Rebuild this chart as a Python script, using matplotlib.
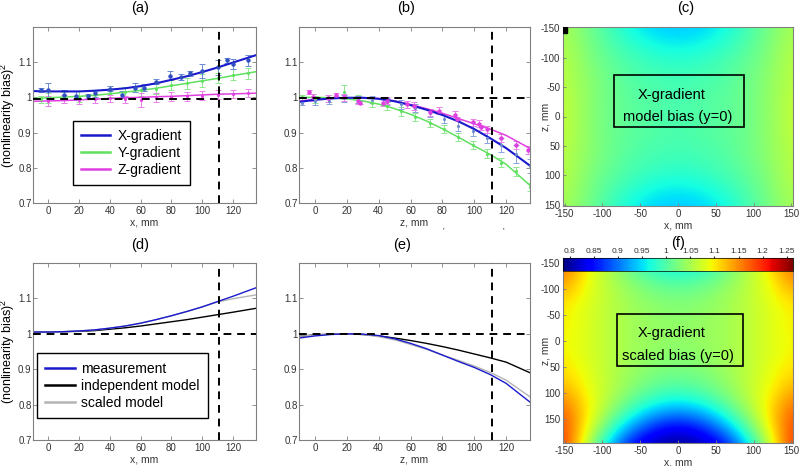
import numpy as np
import matplotlib.pyplot as plt
from matplotlib.patches import Rectangle
from matplotlib.lines import Line2D

plt.rcParams['font.family'] = ['Liberation Sans', 'DejaVu Sans']
plt.rcParams['mathtext.default'] = 'regular'
plt.rcParams['axes.unicode_minus'] = False

# ---------------- data ----------------
# fitted curves, x (or z) in mm
x_fit = [-10, 0, 10, 20, 30, 40, 50, 60, 70, 80, 90, 100, 110, 120, 135]

# (a) x-direction, measured points with error bars
a_blue_x = [-5, 0, 10, 18, 26, 30, 40, 48, 56, 62, 70, 79, 86, 92, 100, 110, 116, 120, 130]
a_blue_y = [1.02, 1.02, 1.008, 1.005, 1.005, 1.012, 1.025, 1.008, 1.028, 1.027, 1.045,
            1.062, 1.058, 1.068, 1.075, 1.085, 1.105, 1.095, 1.105]
a_blue_e = [0.006, 0.02, 0.012, 0.012, 0.006, 0.01, 0.008, 0.01, 0.012, 0.01, 0.008,
            0.012, 0.008, 0.008, 0.02, 0.02, 0.006, 0.015, 0.015]
a_green_x = [-5, 0, 10, 20, 30, 40, 50, 60, 70, 80, 90, 100, 110, 120, 130]
a_green_y = [0.995, 0.998, 1.0, 1.002, 1.007, 1.012, 1.015, 1.02, 1.025, 1.035, 1.04,
             1.048, 1.055, 1.065, 1.068]
a_green_e = [0.01, 0.015, 0.015, 0.015, 0.012, 0.012, 0.015, 0.015, 0.015, 0.015, 0.015,
             0.018, 0.015, 0.015, 0.015]
a_mag_x = [0, 10, 20, 30, 40, 50, 60, 70, 80, 90, 100, 110, 120, 130]
a_mag_y = [0.99, 0.995, 0.993, 0.995, 0.998, 0.995, 0.992, 1.0, 1.002, 1.003, 1.005,
           1.008, 1.01, 1.012]
a_mag_e = [0.015, 0.012, 0.012, 0.012, 0.01, 0.01, 0.02, 0.012, 0.012, 0.012, 0.012,
           0.012, 0.012, 0.012]
a_blue_fit = [1.018, 1.017, 1.017, 1.017, 1.019, 1.022, 1.026, 1.032, 1.04, 1.05, 1.06,
              1.072, 1.085, 1.099, 1.12]
a_green_fit = [0.997, 0.999, 1.001, 1.003, 1.006, 1.01, 1.015, 1.02, 1.026, 1.033, 1.04,
               1.047, 1.054, 1.062, 1.073]
a_mag_fit = [0.989, 0.99, 0.991, 0.993, 0.995, 0.997, 0.999, 1.0, 1.002, 1.003, 1.005,
             1.007, 1.009, 1.01, 1.012]

# (b) z-direction
b_pts_x = [-8, 0, 9, 18, 27, 36, 45, 54, 63, 72, 81, 90, 99, 108, 117, 126, 135]
b_blue_y = [0.985, 0.99, 0.99, 0.997, 0.995, 0.993, 0.988, 0.98, 0.97, 0.955, 0.94,
            0.92, 0.905, 0.885, 0.865, 0.84, 0.805]
b_blue_e = [0.008, 0.012, 0.008, 0.01, 0.01, 0.01, 0.01, 0.012, 0.012, 0.012, 0.012,
            0.015, 0.015, 0.015, 0.02, 0.025, 0.02]
b_green_y = [1.0, 0.995, 0.997, 1.015, 0.995, 0.985, 0.975, 0.96, 0.945, 0.928, 0.91,
             0.887, 0.865, 0.84, 0.815, 0.79, 0.745]
b_green_e = [0.008, 0.01, 0.01, 0.02, 0.012, 0.012, 0.012, 0.012, 0.012, 0.012, 0.012,
             0.012, 0.012, 0.012, 0.012, 0.012, 0.012]
b_mag_x = [-4, -1, 8, 13, 18, 27, 28, 43, 45, 58, 62, 72, 78, 88, 89, 99, 103, 104,
           108, 117, 126, 134]
b_mag_y = [1.015, 1.0, 0.998, 1.008, 1.0, 0.99, 0.985, 0.985, 0.99, 0.98, 0.975, 0.958,
           0.962, 0.95, 0.94, 0.93, 0.925, 0.915, 0.91, 0.885, 0.865, 0.85]
b_mag_e = [0.005, 0.01, 0.01, 0.005, 0.01, 0.01, 0.005, 0.01, 0.01, 0.01, 0.012, 0.01,
           0.01, 0.01, 0.005, 0.01, 0.01, 0.008, 0.01, 0.012, 0.012, 0.012]
b_blue_fit = [0.987, 0.993, 0.997, 0.999, 0.999, 0.996, 0.989, 0.978, 0.965, 0.95,
              0.932, 0.91, 0.884, 0.856, 0.806]
b_green_fit = [1.0, 1.0, 0.999, 0.996, 0.99, 0.981, 0.968, 0.952, 0.933, 0.911, 0.887,
               0.862, 0.838, 0.81, 0.75]
b_mag_fit = [0.99, 0.994, 0.997, 0.999, 0.999, 0.997, 0.99, 0.98, 0.968, 0.955, 0.94,
             0.925, 0.91, 0.892, 0.855]

# (d) / (e) measurement vs models
d_meas = [1.005, 1.005, 1.006, 1.008, 1.011, 1.016, 1.022, 1.03, 1.04, 1.051, 1.063,
          1.076, 1.091, 1.106, 1.13]
d_indep = [1.005, 1.005, 1.006, 1.007, 1.009, 1.013, 1.017, 1.022, 1.028, 1.034, 1.04,
           1.047, 1.054, 1.061, 1.072]
d_scaled = [1.005, 1.005, 1.006, 1.008, 1.011, 1.016, 1.022, 1.03, 1.04, 1.051, 1.063,
            1.076, 1.09, 1.099, 1.11]
e_meas = [0.988, 0.994, 0.998, 1.0, 0.999, 0.995, 0.986, 0.973, 0.958, 0.94, 0.922,
          0.905, 0.885, 0.86, 0.807]
e_indep = [0.993, 0.997, 0.999, 1.0, 0.998, 0.994, 0.988, 0.981, 0.973, 0.964, 0.954,
           0.943, 0.932, 0.92, 0.89]
e_scaled = [0.993, 0.996, 0.999, 1.0, 0.998, 0.992, 0.983, 0.97, 0.956, 0.94, 0.925,
            0.909, 0.891, 0.869, 0.822]

# (c) model bias map, x = -150..150 step 30 (columns), z = -150..150 step 30 (rows)
map_c = [
    [1.05, 1.02, 0.99, 0.96, 0.945, 0.94, 0.945, 0.96, 0.99, 1.02, 1.05],
    [1.055, 1.025, 1.0, 0.98, 0.965, 0.96, 0.965, 0.98, 1.0, 1.025, 1.055],
    [1.06, 1.03, 1.01, 0.995, 0.985, 0.98, 0.985, 0.995, 1.01, 1.03, 1.06],
    [1.06, 1.035, 1.015, 1.0, 0.995, 0.99, 0.995, 1.0, 1.015, 1.035, 1.06],
    [1.065, 1.035, 1.015, 1.005, 1.0, 0.995, 1.0, 1.005, 1.015, 1.035, 1.065],
    [1.065, 1.035, 1.015, 1.005, 1.0, 0.995, 1.0, 1.005, 1.015, 1.035, 1.065],
    [1.065, 1.035, 1.015, 1.005, 1.0, 0.995, 1.0, 1.005, 1.015, 1.035, 1.065],
    [1.06, 1.035, 1.015, 1.0, 0.995, 0.99, 0.995, 1.0, 1.015, 1.035, 1.06],
    [1.06, 1.03, 1.01, 0.995, 0.985, 0.98, 0.985, 0.995, 1.01, 1.03, 1.06],
    [1.055, 1.025, 1.0, 0.98, 0.965, 0.96, 0.965, 0.98, 1.0, 1.025, 1.055],
    [1.05, 1.02, 0.99, 0.96, 0.945, 0.94, 0.945, 0.96, 0.99, 1.02, 1.05],
]

# (f) scaled bias map, x = -150..150 step 30, z = -150..210 step 30
map_f = [
    [1.17, 1.10, 1.05, 1.00, 0.965, 0.955, 0.965, 1.00, 1.05, 1.10, 1.17],
    [1.15, 1.09, 1.055, 1.025, 1.0, 0.99, 1.0, 1.025, 1.055, 1.09, 1.15],
    [1.12, 1.085, 1.06, 1.04, 1.025, 1.02, 1.025, 1.04, 1.06, 1.085, 1.12],
    [1.10, 1.08, 1.06, 1.045, 1.035, 1.03, 1.035, 1.045, 1.06, 1.08, 1.10],
    [1.10, 1.08, 1.06, 1.045, 1.04, 1.035, 1.04, 1.045, 1.06, 1.08, 1.10],
    [1.095, 1.08, 1.06, 1.045, 1.04, 1.035, 1.04, 1.045, 1.06, 1.08, 1.095],
    [1.10, 1.08, 1.06, 1.045, 1.035, 1.03, 1.035, 1.045, 1.06, 1.08, 1.10],
    [1.11, 1.085, 1.06, 1.04, 1.025, 1.02, 1.025, 1.04, 1.06, 1.085, 1.11],
    [1.13, 1.09, 1.06, 1.03, 1.005, 0.995, 1.005, 1.03, 1.06, 1.09, 1.13],
    [1.16, 1.10, 1.05, 1.0, 0.965, 0.95, 0.965, 1.0, 1.05, 1.10, 1.16],
    [1.18, 1.10, 1.02, 0.95, 0.895, 0.875, 0.895, 0.95, 1.02, 1.10, 1.18],
    [1.19, 1.08, 0.97, 0.88, 0.83, 0.81, 0.83, 0.88, 0.97, 1.08, 1.19],
    [1.20, 1.05, 0.92, 0.83, 0.80, 0.79, 0.80, 0.83, 0.92, 1.05, 1.20],
]

cbar_ticks = [0.8, 0.85, 0.9, 0.95, 1, 1.05, 1.1, 1.15, 1.2, 1.25]
cbar_labels = ['0.8', '0.85', '0.9', '0.95', '1', '1.05', '1.1', '1.15', '1.2', '1.25']

C_BLUE = '#1a1acc'
C_GREEN = '#5fe05f'
C_MAG = '#e040e0'
C_GRAY = '#b4b4b4'
FRAME = '#808080'
W, H = 800, 466


def px_axes(left, top, right, bottom):
    return fig.add_axes([left / W, 1 - bottom / H, (right - left) / W, (bottom - top) / H])


def style_axes(ax):
    for s in ax.spines.values():
        s.set_color(FRAME)
        s.set_linewidth(0.8)
    ax.tick_params(direction='in', length=3, width=0.6, color=FRAME, labelsize=7,
                   labelcolor='#333333', top=True, right=True, pad=2)


def style_profile(ax, xlabel):
    style_axes(ax)
    ax.tick_params(axis='y', pad=1)
    ax.set_xlim(-10, 135)
    ax.set_ylim(0.7, 1.2)
    ax.set_xticks(range(0, 121, 20))
    ax.set_yticks([0.7, 0.8, 0.9, 1.0, 1.1])
    ax.set_yticklabels(['0.7', '0.8', '0.9', '1', '1.1'])
    ax.set_xlabel(xlabel, fontsize=7.5, color='#333333', labelpad=1)


def guides(ax, yh):
    ax.axhline(yh, color='k', ls=(0, (4, 3)), lw=1.4, zorder=5)
    ax.axvline(111, color='k', ls=(0, (4, 3)), lw=1.4, zorder=5)


def legend_box(ax, handles, labels, anchor):
    leg = ax.legend(handles, labels, loc='lower left', bbox_to_anchor=anchor,
                    borderaxespad=0, fontsize=10, handlelength=2.1, handletextpad=0.5,
                    labelspacing=0.22, borderpad=0.6, fancybox=False, framealpha=1)
    leg.get_frame().set_edgecolor('k')
    leg.get_frame().set_linewidth(1.0)


fig = plt.figure(figsize=(8, 4.66), dpi=100)

# (a)
ax = px_axes(33, 27, 256, 203)
ax.errorbar(a_green_x, a_green_y, yerr=a_green_e, fmt='.', ms=2.5, color='#8ee88e',
            mfc=C_GREEN, mec=C_GREEN, elinewidth=0.7, capsize=2, capthick=0.7)
ax.errorbar(a_mag_x, a_mag_y, yerr=a_mag_e, fmt='.', ms=2.5, color='#ea80ea',
            mfc=C_MAG, mec=C_MAG, elinewidth=0.7, capsize=2, capthick=0.7)
ax.errorbar(a_blue_x, a_blue_y, yerr=a_blue_e, fmt='o', ms=2.2, color='#6a8ad0',
            mfc='#3050c0', mec='#3050c0', elinewidth=0.7, capsize=2, capthick=0.7)
ax.plot(x_fit, a_green_fit, color=C_GREEN, lw=1.1)
ax.plot(x_fit, a_mag_fit, color=C_MAG, lw=1.1)
ax.plot(x_fit, a_blue_fit, color=C_BLUE, lw=1.5)
guides(ax, 0.995)
style_profile(ax, 'x, mm')
ax.set_ylabel('(nonlinearity bias)$^2$', fontsize=9)
ax.yaxis.set_label_coords(-0.072, 0.5)
handles = [Line2D([], [], color=C_BLUE, lw=1.8), Line2D([], [], color=C_GREEN, lw=1.8),
           Line2D([], [], color=C_MAG, lw=1.8)]
legend_box(ax, handles, ['X-gradient', 'Y-gradient', 'Z-gradient'], (0.179, 0.10))

# (b)
ax = px_axes(299, 27, 530, 203)
ax.errorbar(b_pts_x, b_green_y, yerr=b_green_e, fmt='.', ms=2.5, color='#8ee88e',
            mfc=C_GREEN, mec=C_GREEN, elinewidth=0.7, capsize=2, capthick=0.7)
ax.errorbar(b_pts_x, b_blue_y, yerr=b_blue_e, fmt='.', ms=2.5, color='#8aa4dc',
            mfc='#6a8ad0', mec='#6a8ad0', elinewidth=0.7, capsize=2, capthick=0.7)
ax.errorbar(b_mag_x, b_mag_y, yerr=b_mag_e, fmt='o', ms=2.2, color='#ea80ea',
            mfc=C_MAG, mec=C_MAG, elinewidth=0.7, capsize=2, capthick=0.7)
ax.plot(x_fit, b_green_fit, color=C_GREEN, lw=1.1)
ax.plot(x_fit, b_mag_fit, color=C_MAG, lw=1.1)
ax.plot(x_fit, b_blue_fit, color=C_BLUE, lw=1.5)
guides(ax, 0.997)
style_profile(ax, 'z, mm')

# (d)
ax = px_axes(33, 263, 256, 440)
ax.plot(x_fit, d_indep, color='k', lw=1.0)
ax.plot(x_fit, d_scaled, color=C_GRAY, lw=1.0)
ax.plot(x_fit, d_meas, color=C_BLUE, lw=1.0)
guides(ax, 1.0)
style_profile(ax, 'x, mm')
ax.set_ylabel('(nonlinearity bias)$^2$', fontsize=9)
ax.yaxis.set_label_coords(-0.072, 0.5)
handles = [Line2D([], [], color=C_BLUE, lw=1.8), Line2D([], [], color='k', lw=1.8),
           Line2D([], [], color=C_GRAY, lw=1.8)]
legend_box(ax, handles, ['measurement', 'independent model', 'scaled model'],
           (0.018, 0.124))

# (e)
ax = px_axes(299, 263, 530, 440)
ax.plot(x_fit, e_indep, color='k', lw=1.0)
ax.plot(x_fit, e_scaled, color=C_GRAY, lw=1.0)
ax.plot(x_fit, e_meas, color=C_BLUE, lw=1.0)
guides(ax, 1.0)
style_profile(ax, 'z, mm')

vmin, vmax = 0.786, 1.263

# (c)
ax = px_axes(563, 27, 793, 206)
ax.imshow(np.array(map_c), cmap='jet', vmin=vmin, vmax=vmax, interpolation='bicubic',
          extent=[-165, 165, 165, -165], aspect='auto')
ax.set_xlim(-152, 152)
ax.set_ylim(152, -152)
ax.add_patch(Rectangle((-152, -152), 5, 10, color='k', zorder=4))
ax.add_patch(Rectangle((-84, -70), 171, 88, fill=False, ec='k', lw=1.2, zorder=4))
ax.text(-9, -36, 'X-gradient', ha='center', va='center', fontsize=10.5)
ax.text(0, 0, 'model bias (y=0)', ha='center', va='center', fontsize=10.5)
style_axes(ax)
ax.tick_params(top=False, right=False, length=2)
ax.set_xticks(range(-150, 151, 50))
ax.set_yticks(range(-150, 151, 50))
ax.set_xlabel('x, mm', fontsize=7.5, color='#333333', labelpad=1)
ax.set_ylabel('z, mm', fontsize=7.5, color='#333333')
ax.yaxis.set_label_coords(-0.055, 0.5)

# (f)
ax = px_axes(563, 258, 793, 443)
im = ax.imshow(np.array(map_f), cmap='jet', vmin=vmin, vmax=vmax, interpolation='bicubic',
               extent=[-165, 165, 225, -165], aspect='auto')
ax.set_xlim(-152, 152)
ax.set_ylim(195, -159)
ax.add_patch(Rectangle((-81, -52), 167, 99, fill=False, ec='k', lw=1.2, zorder=4))
ax.text(-9, -15, 'X-gradient', ha='center', va='center', fontsize=10.5)
ax.text(0, 28, 'scaled bias (y=0)', ha='center', va='center', fontsize=10.5)
style_axes(ax)
ax.tick_params(top=False, right=False, length=2)
ax.set_xticks(range(-150, 151, 50))
ax.set_yticks(range(-150, 151, 50))
ax.set_xlabel('x, mm', fontsize=7.5, color='#333333', labelpad=1)
ax.set_ylabel('z, mm', fontsize=7.5, color='#333333')
ax.yaxis.set_label_coords(-0.055, 0.5)

cax = px_axes(563, 258, 793, 271)
cb = fig.colorbar(im, cax=cax, orientation='horizontal', ticks=cbar_ticks)
cb.ax.xaxis.set_ticks_position('top')
cb.ax.set_xticklabels(cbar_labels)
cb.ax.tick_params(labelsize=6, length=1.5, pad=1, colors='#333333')
cb.outline.set_linewidth(0.5)

# panel letters
for lx, ly, s in [(140, 8, '(a)'), (406, 8, '(b)'), (686, 8, '(c)'),
                  (140, 245, '(d)'), (402, 245, '(e)'), (678, 243, '(f)')]:
    fig.text(lx / W, 1 - ly / H, s, ha='center', va='center', fontsize=10.5)

# stray marks under panel (b)
for lx in (443, 503):
    fig.text(lx / W, 1 - 231 / H, "'", ha='center', va='center', fontsize=6)

fig.savefig('out.png', dpi=100)
